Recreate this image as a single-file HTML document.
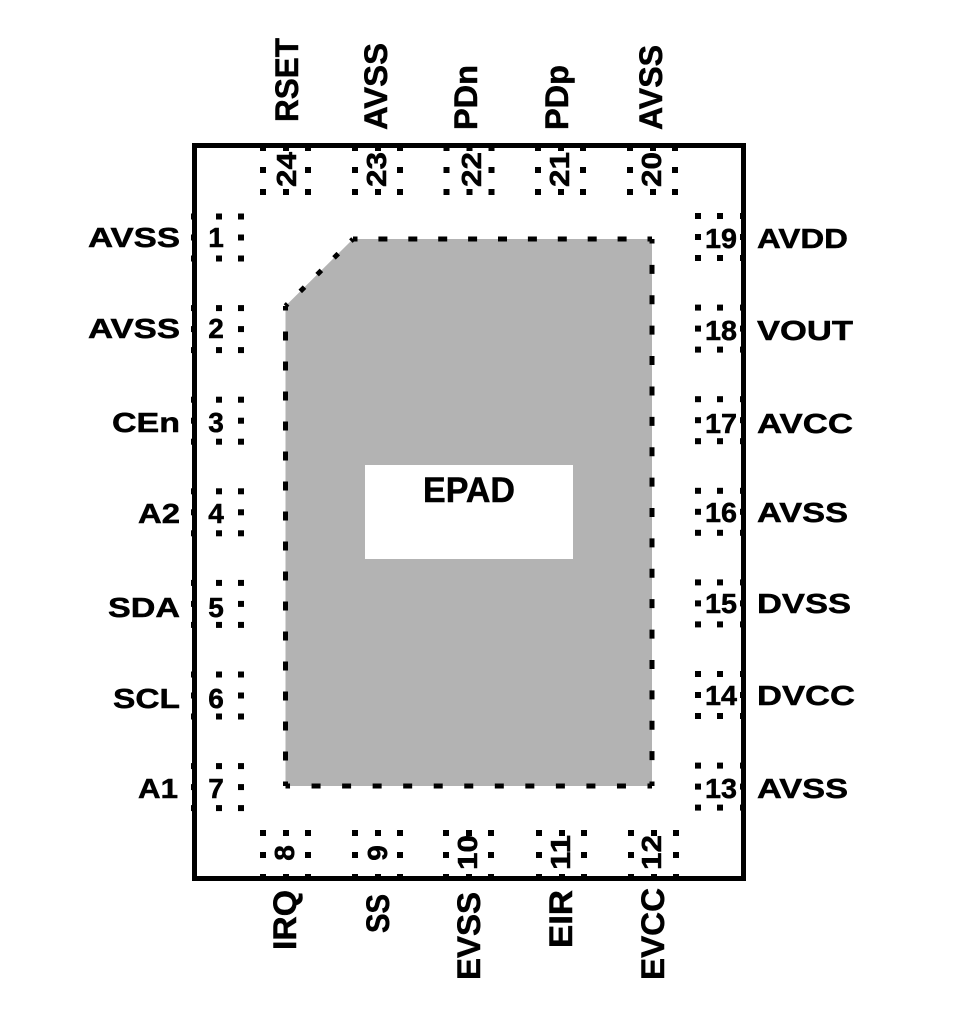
<!DOCTYPE html>
<html><head><meta charset="utf-8"><style>
html,body{margin:0;padding:0;background:#fff;}
svg{display:block;}
text{font-family:"Liberation Sans",Arial,sans-serif;font-weight:bold;fill:#000;stroke:#000;stroke-width:0.5;}
</style></head><body>
<svg width="960" height="1021" viewBox="0 0 960 1021" xmlns="http://www.w3.org/2000/svg">
<defs>
<g id="bL"><rect x="0" y="0" width="6" height="6"/><rect x="25" y="0" width="6" height="6"/><rect x="47" y="0" width="6" height="6"/><rect x="0" y="21" width="6" height="6"/><rect x="47" y="21" width="6" height="6"/><rect x="0" y="42" width="6" height="6"/><rect x="25" y="42" width="6" height="6"/><rect x="47" y="42" width="6" height="6"/></g>
<g id="bR"><rect x="0" y="0" width="6" height="6"/><rect x="22" y="0" width="6" height="6"/><rect x="45" y="0" width="6" height="6"/><rect x="0" y="21" width="6" height="6"/><rect x="45" y="21" width="6" height="6"/><rect x="0" y="42" width="6" height="6"/><rect x="22" y="42" width="6" height="6"/><rect x="45" y="42" width="6" height="6"/></g>
<g id="bT"><rect x="0" y="0" width="6" height="6"/><rect x="23" y="0" width="6" height="6"/><rect x="45" y="0" width="6" height="6"/><rect x="0" y="22" width="6" height="6"/><rect x="45" y="22" width="6" height="6"/><rect x="0" y="44" width="6" height="6"/><rect x="23" y="44" width="6" height="6"/><rect x="45" y="44" width="6" height="6"/></g>
</defs>

<!-- outer package -->
<rect x="194.5" y="145.5" width="549" height="733" fill="none" stroke="#000" stroke-width="5"/>

<!-- EPAD -->
<polygon points="353,239 652,239 652,786 285.5,786 285.5,306" fill="#b3b3b3"/>
<g stroke="#000" stroke-width="5" fill="none">
<line x1="353" y1="239" x2="652" y2="239" stroke-dasharray="9 20.9" stroke-dashoffset="4.5"/>
<line x1="652" y1="239" x2="652" y2="786" stroke-dasharray="9 21.39" stroke-dashoffset="4.5"/>
<line x1="652" y1="786" x2="285.5" y2="786" stroke-dasharray="9 21.54" stroke-dashoffset="4.5"/>
<line x1="285.5" y1="786" x2="285.5" y2="306" stroke-dasharray="9 21" stroke-dashoffset="4.5"/>
<line x1="285.5" y1="306" x2="353" y2="239" stroke-dasharray="6 17.78" stroke-dashoffset="3"/>
</g>
<rect x="365" y="465" width="208" height="94" fill="#fff"/>
<text x="423" y="502" font-size="35" textLength="92" lengthAdjust="spacingAndGlyphs">EPAD</text>

<!-- pin boxes -->
<g fill="#000">
<use href="#bL" x="191" y="213.5"/>
<use href="#bL" x="191" y="305.1"/>
<use href="#bL" x="191" y="396.7"/>
<use href="#bL" x="191" y="488.3"/>
<use href="#bL" x="191" y="579.9"/>
<use href="#bL" x="191" y="671.5"/>
<use href="#bL" x="191" y="763.1"/>
<use href="#bR" x="695" y="213"/>
<use href="#bR" x="695" y="304.6"/>
<use href="#bR" x="695" y="396.2"/>
<use href="#bR" x="695" y="487.8"/>
<use href="#bR" x="695" y="579.4"/>
<use href="#bR" x="695" y="671"/>
<use href="#bR" x="695" y="762.6"/>
<use href="#bT" x="260" y="145"/>
<use href="#bT" x="352" y="145"/>
<use href="#bT" x="443.5" y="145"/>
<use href="#bT" x="535" y="145"/>
<use href="#bT" x="627" y="145"/>
<use href="#bT" x="260" y="830"/>
<use href="#bT" x="352" y="830"/>
<use href="#bT" x="443" y="830"/>
<use href="#bT" x="536" y="830"/>
<use href="#bT" x="628" y="830"/>
</g>

<!-- left labels -->
<text x="88" y="247" font-size="28" textLength="92" lengthAdjust="spacingAndGlyphs">AVSS</text>
<text x="88" y="338" font-size="28" textLength="92" lengthAdjust="spacingAndGlyphs">AVSS</text>
<text x="112" y="432" font-size="28" textLength="68" lengthAdjust="spacingAndGlyphs">CEn</text>
<text x="138" y="523" font-size="28" textLength="42" lengthAdjust="spacingAndGlyphs">A2</text>
<text x="108" y="617" font-size="28" textLength="72" lengthAdjust="spacingAndGlyphs">SDA</text>
<text x="113" y="708" font-size="28" textLength="67" lengthAdjust="spacingAndGlyphs">SCL</text>
<text x="138" y="798" font-size="28" textLength="40" lengthAdjust="spacingAndGlyphs">A1</text>

<!-- left pin numbers -->
<g font-size="28" text-anchor="middle">
<text x="216" y="247">1</text>
<text x="216" y="338">2</text>
<text x="216" y="432">3</text>
<text x="216" y="523">4</text>
<text x="216" y="617">5</text>
<text x="216" y="708">6</text>
<text x="216" y="798">7</text>
</g>

<!-- right pin numbers -->
<text x="705" y="248" font-size="28" textLength="32" lengthAdjust="spacingAndGlyphs">19</text>
<text x="705" y="340" font-size="28" textLength="32" lengthAdjust="spacingAndGlyphs">18</text>
<text x="705" y="433" font-size="28" textLength="32" lengthAdjust="spacingAndGlyphs">17</text>
<text x="705" y="522" font-size="28" textLength="32" lengthAdjust="spacingAndGlyphs">16</text>
<text x="705" y="613" font-size="28" textLength="32" lengthAdjust="spacingAndGlyphs">15</text>
<text x="705" y="705" font-size="28" textLength="32" lengthAdjust="spacingAndGlyphs">14</text>
<text x="705" y="798" font-size="28" textLength="32" lengthAdjust="spacingAndGlyphs">13</text>

<!-- right labels -->
<text x="757" y="248" font-size="28" textLength="91" lengthAdjust="spacingAndGlyphs">AVDD</text>
<text x="757" y="340" font-size="28" textLength="96" lengthAdjust="spacingAndGlyphs">VOUT</text>
<text x="757" y="433" font-size="28" textLength="96" lengthAdjust="spacingAndGlyphs">AVCC</text>
<text x="757" y="522" font-size="28" textLength="91" lengthAdjust="spacingAndGlyphs">AVSS</text>
<text x="757" y="613" font-size="28" textLength="94" lengthAdjust="spacingAndGlyphs">DVSS</text>
<text x="757" y="705" font-size="28" textLength="98" lengthAdjust="spacingAndGlyphs">DVCC</text>
<text x="757" y="798" font-size="28" textLength="91" lengthAdjust="spacingAndGlyphs">AVSS</text>

<!-- top labels (rotated) -->
<text transform="translate(298,122) rotate(-90)" font-size="32" textLength="84" lengthAdjust="spacingAndGlyphs">RSET</text>
<text transform="translate(387,130) rotate(-90)" font-size="32" textLength="87" lengthAdjust="spacingAndGlyphs">AVSS</text>
<text transform="translate(477,130) rotate(-90)" font-size="32" textLength="65" lengthAdjust="spacingAndGlyphs">PDn</text>
<text transform="translate(568,130) rotate(-90)" font-size="32" textLength="65" lengthAdjust="spacingAndGlyphs">PDp</text>
<text transform="translate(662,130) rotate(-90)" font-size="32" textLength="85" lengthAdjust="spacingAndGlyphs">AVSS</text>

<!-- top pin numbers -->
<text transform="translate(296,187) rotate(-90)" font-size="28" textLength="35" lengthAdjust="spacingAndGlyphs">24</text>
<text transform="translate(386,187) rotate(-90)" font-size="28" textLength="35" lengthAdjust="spacingAndGlyphs">23</text>
<text transform="translate(481,187) rotate(-90)" font-size="28" textLength="35" lengthAdjust="spacingAndGlyphs">22</text>
<text transform="translate(569,187) rotate(-90)" font-size="28" textLength="35" lengthAdjust="spacingAndGlyphs">21</text>
<text transform="translate(661,187) rotate(-90)" font-size="28" textLength="35" lengthAdjust="spacingAndGlyphs">20</text>

<!-- bottom pin numbers -->
<text transform="translate(294,853) rotate(-90)" font-size="28" text-anchor="middle">8</text>
<text transform="translate(387,853) rotate(-90)" font-size="28" text-anchor="middle">9</text>
<text transform="translate(477,870) rotate(-90)" font-size="28" textLength="35" lengthAdjust="spacingAndGlyphs">10</text>
<text transform="translate(570,870) rotate(-90)" font-size="28" textLength="35" lengthAdjust="spacingAndGlyphs">11</text>
<text transform="translate(661,870) rotate(-90)" font-size="28" textLength="35" lengthAdjust="spacingAndGlyphs">12</text>

<!-- bottom labels (rotated) -->
<text transform="translate(296,950) rotate(-90)" font-size="32" textLength="60" lengthAdjust="spacingAndGlyphs">IRQ</text>
<text transform="translate(389,933) rotate(-90)" font-size="32" textLength="39" lengthAdjust="spacingAndGlyphs">SS</text>
<text transform="translate(480,980) rotate(-90)" font-size="32" textLength="88" lengthAdjust="spacingAndGlyphs">EVSS</text>
<text transform="translate(572,948) rotate(-90)" font-size="32" textLength="58" lengthAdjust="spacingAndGlyphs">EIR</text>
<text transform="translate(664,980) rotate(-90)" font-size="32" textLength="92" lengthAdjust="spacingAndGlyphs">EVCC</text>
</svg>
</body></html>
